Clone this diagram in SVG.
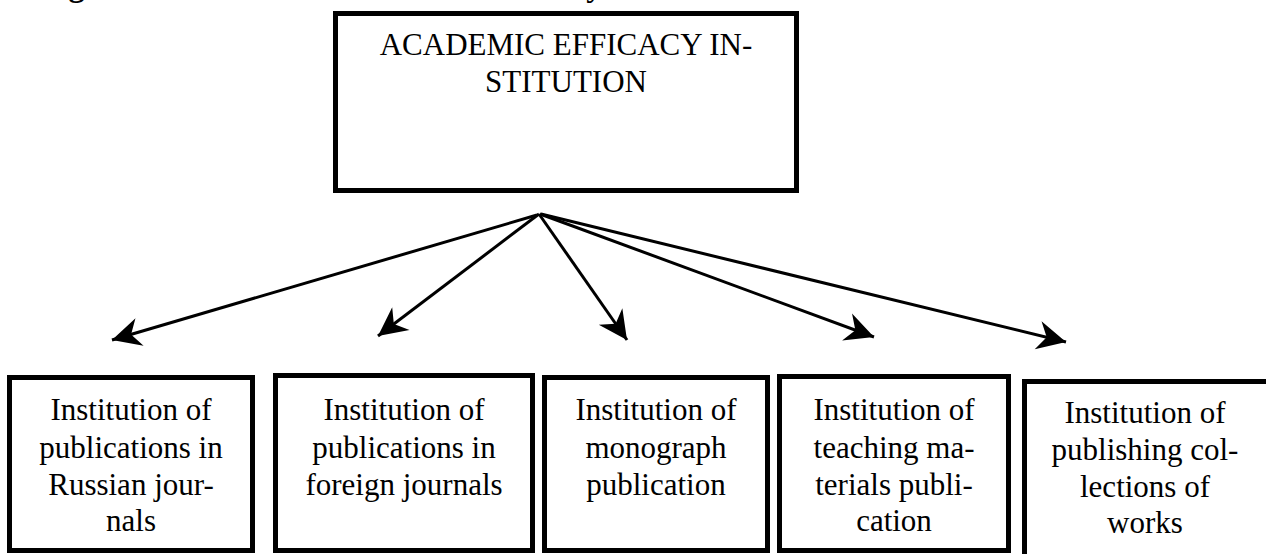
<svg xmlns="http://www.w3.org/2000/svg" width="1266" height="554" viewBox="0 0 1266 554">
<style>
.box{fill:none;stroke:#000;stroke-width:5}
.t{font-family:"Liberation Serif","Times New Roman",serif;font-size:31px;fill:#000;text-anchor:middle}
.cap{font-family:"Liberation Serif","Times New Roman",serif;font-size:32px;font-weight:bold;fill:#000}
.conn{stroke:#000;stroke-width:3;fill:none}
</style>
<defs>
<marker id="ah" markerUnits="userSpaceOnUse" markerWidth="32" markerHeight="32" viewBox="-27 -14 29 28" refX="0" refY="0" orient="auto">
<path d="M0,0 L-26,-13 L-18,0 L-26,13 Z" fill="#000"/>
</marker>
</defs>
<rect width="1266" height="554" fill="#fff"/>
<text class="cap" x="40" y="-4">Fig. 1. The structure of academic efficacy institution</text>
<g id="top">
<rect class="box" x="335.5" y="13.5" width="461" height="177"/>
<text class="t" x="566" y="55">ACADEMIC EFFICACY IN-</text>
<text class="t" x="566" y="92">STITUTION</text>
</g>
<g id="connectors">
<line class="conn" x1="537" y1="215" x2="112" y2="340" marker-end="url(#ah)"/>
<line class="conn" x1="539" y1="214" x2="378" y2="336" marker-end="url(#ah)"/>
<line class="conn" x1="539" y1="214" x2="627" y2="340" marker-end="url(#ah)"/>
<line class="conn" x1="540" y1="214" x2="874" y2="337" marker-end="url(#ah)"/>
<line class="conn" x1="541" y1="214" x2="1066" y2="342" marker-end="url(#ah)"/>
</g>
<g id="n1">
<rect class="box" x="9.5" y="377.5" width="243" height="173"/>
<text class="t" x="131" y="420">Institution of</text>
<text class="t" x="131" y="458">publications in</text>
<text class="t" x="131" y="495">Russian jour-</text>
<text class="t" x="131" y="531">nals</text>
</g>
<g id="n2">
<rect class="box" x="275.5" y="375.5" width="257" height="175"/>
<text class="t" x="404" y="420">Institution of</text>
<text class="t" x="404" y="458">publications in</text>
<text class="t" x="404" y="495">foreign journals</text>
</g>
<g id="n3">
<rect class="box" x="544.5" y="377.5" width="223" height="173"/>
<text class="t" x="656" y="420">Institution of</text>
<text class="t" x="656" y="458">monograph</text>
<text class="t" x="656" y="495">publication</text>
</g>
<g id="n4">
<rect class="box" x="779.5" y="376.5" width="229" height="174"/>
<text class="t" x="894" y="420">Institution of</text>
<text class="t" x="894" y="458">teaching ma-</text>
<text class="t" x="894" y="495">terials publi-</text>
<text class="t" x="894" y="531">cation</text>
</g>
<g id="n5">
<rect class="box" x="1024.5" y="381.5" width="244" height="185"/>
<text class="t" x="1145" y="423">Institution of</text>
<text class="t" x="1145" y="460">publishing col-</text>
<text class="t" x="1145" y="497">lections of</text>
<text class="t" x="1145" y="533">works</text>
</g>
</svg>
